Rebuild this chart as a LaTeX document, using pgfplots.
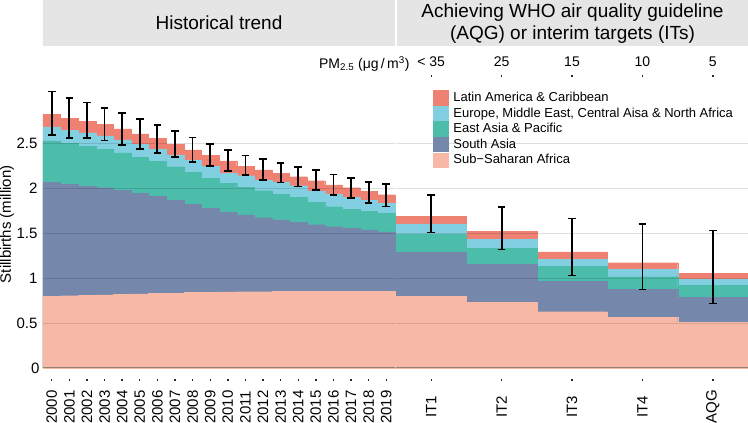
\documentclass[border=0pt]{standalone}
\usepackage{fontspec}
\setmainfont{Liberation Sans}
\usepackage{pgfplots}
\pgfplotsset{compat=1.18}
\usepackage{pgfplotstable}

\definecolor{latam}{RGB}{238,129,114}
\definecolor{eur}{RGB}{130,207,226}
\definecolor{eap}{RGB}{76,188,171}
\definecolor{sa}{RGB}{118,135,172}
\definecolor{ssa}{RGB}{247,185,165}
\definecolor{strip}{RGB}{229,229,229}
\definecolor{zeroline}{RGB}{150,128,120}

% cumulative tops of each stacked layer (million), error bar low/high
\pgfplotstableread{
x lat eur eap sa ssa lo hi
0 2.823 2.685 2.530 2.070 0.800 2.596 3.079
1 2.782 2.648 2.504 2.045 0.805 2.563 3.008
2 2.749 2.619 2.470 2.026 0.810 2.559 2.956
3 2.712 2.585 2.433 2.007 0.815 2.533 2.893
4 2.663 2.541 2.396 1.981 0.820 2.485 2.841
5 2.608 2.489 2.344 1.948 0.825 2.441 2.774
6 2.559 2.437 2.300 1.915 0.830 2.393 2.707
7 2.493 2.374 2.241 1.870 0.835 2.352 2.641
8 2.430 2.315 2.178 1.826 0.840 2.296 2.567
9 2.370 2.244 2.115 1.781 0.845 2.252 2.493
10 2.307 2.170 2.056 1.733 0.847 2.196 2.430
11 2.248 2.141 2.011 1.704 0.849 2.148 2.367
12 2.207 2.093 1.974 1.674 0.850 2.096 2.326
13 2.170 2.067 1.937 1.648 0.851 2.067 2.285
14 2.130 2.030 1.900 1.622 0.852 2.022 2.235
15 2.085 1.967 1.844 1.596 0.852 1.981 2.204
16 2.038 1.940 1.796 1.574 0.853 1.929 2.154
17 2.008 1.898 1.770 1.556 0.854 1.891 2.113
18 1.965 1.865 1.745 1.537 0.855 1.835 2.068
19 1.930 1.835 1.720 1.515 0.856 1.797 2.049
}\hist

\pgfplotstableread{
x lat eur eap sa ssa lo hi
0 1.688 1.606 1.487 1.291 0.801 1.510 1.925
1 1.521 1.435 1.332 1.154 0.734 1.320 1.795
2 1.294 1.213 1.131 0.968 0.627 1.031 1.665
3 1.172 1.098 1.016 0.875 0.567 0.875 1.602
4 1.057 0.987 0.920 0.790 0.512 0.716 1.532
}\scen

\pgfplotsset{
  panel/.style={
    scale only axis, width=352pt, height=287.4pt,
    ymin=0, ymax=3.2,
    axis line style={draw=none},
    axis on top,
    ytick={0.5,1,1.5,2,2.5},
    extra y ticks={0},
    extra y tick style={major tick length=0pt, grid style={draw=zeroline, opacity=1, line width=1pt}},
    ymajorgrids,
    grid style={draw=black, opacity=0.13, line width=0.9pt},
    ytick style={draw=none},
    xtick pos=left,
    tick align=outside,
    major tick length=2pt,
    xtick style={draw=black!85, line width=1.4pt, yshift=-11pt},
    /pgf/number format/assume math mode=true,
    tick label style={font=\fontsize{15}{17}\selectfont},
    xticklabel style={rotate=90, anchor=center},
    xticklabel shift=37pt,
    clip=false,
  },
  bar/.style={ybar, bar width=1, bar shift=0pt, fill=#1, draw=#1, line width=0.2pt,
    legend image code/.code={\fill[#1] (0pt,-7.2pt) rectangle (15pt,7.2pt);}},
  errs/.style={draw=none, no markers, forget plot,
    error bars/.cd, y dir=both, y explicit,
    error bar style={draw=black, line width=1.8pt},
    error mark options={rotate=90, draw=black, line width=1.6pt, mark size=3.8pt}},
}

\begin{document}
\begin{tikzpicture}
\path[use as bounding box] (0pt,0pt) rectangle (748pt,423pt);

% facet strips
\fill[strip] (43pt,377pt) rectangle (395pt,423pt);
\fill[strip] (397pt,377pt) rectangle (748pt,423pt);
\node[font=\fontsize{19}{22}\selectfont] at (219pt,400pt) {Historical trend};
\node[font=\fontsize{19}{22}\selectfont, align=center] at (572.5pt,399pt) {Achieving WHO air quality guideline\\(AQG) or interim targets (ITs)};

% left panel: historical trend
\begin{axis}[panel, at={(43pt,55pt)}, anchor=south west,
  xmin=-0.5, xmax=19.5,
  xtick={0,...,19},
  xticklabels={2000,2001,2002,2003,2004,2005,2006,2007,2008,2009,2010,2011,2012,2013,2014,2015,2016,2017,2018,2019},
  ylabel={Stillbirths (million)},
  every axis y label/.style={at={(axis description cs:-0.1023,0.5)}, rotate=90, anchor=center, font=\fontsize{15}{17}\selectfont},
]
\addplot[bar=latam] table[x=x, y=lat] {\hist};
\addplot[bar=eur] table[x=x, y=eur] {\hist};
\addplot[bar=eap] table[x=x, y=eap] {\hist};
\addplot[bar=sa] table[x=x, y=sa] {\hist};
\addplot[bar=ssa] table[x=x, y=ssa] {\hist};
\addplot[errs] table[x=x, y expr={(\thisrow{lo}+\thisrow{hi})/2}, y error expr={(\thisrow{hi}-\thisrow{lo})/2}] {\hist};
\end{axis}

% right panel: scenarios
\begin{axis}[panel, at={(396pt,55pt)}, anchor=south west,
  xmin=-0.5, xmax=4.5,
  xtick={0,...,4},
  xticklabels={IT1,IT2,IT3,IT4,AQG},
  yticklabels={}, extra y tick labels={},
  legend style={at={(axis description cs:0.105,0.967)}, anchor=north west,
    draw=none, fill=none, inner sep=0pt, row sep=1pt, column sep=5pt,
    nodes={inner sep=0pt}, cells={anchor=west},
    font=\fontsize{13}{15}\selectfont},
  legend entries={Latin America \& Caribbean, {Europe, Middle East, Central Aisa \& North Africa}, East Asia \& Pacific, South Asia, Sub−Saharan Africa},
]
\addplot[bar=latam] table[x=x, y=lat] {\scen};
\addplot[bar=eur] table[x=x, y=eur] {\scen};
\addplot[bar=eap] table[x=x, y=eap] {\scen};
\addplot[bar=sa] table[x=x, y=sa] {\scen};
\addplot[bar=ssa] table[x=x, y=ssa] {\scen};
\addplot[errs] table[x=x, y expr={(\thisrow{lo}+\thisrow{hi})/2}, y error expr={(\thisrow{hi}-\thisrow{lo})/2}] {\scen};
\end{axis}

% top PM2.5 axis for the scenario panel
\begin{axis}[at={(396pt,55pt)}, anchor=south west, scale only axis, width=352pt, height=287.4pt,
  xmin=-0.5, xmax=4.5, ymin=0, ymax=1,
  axis x line*=top, axis y line=none,
  x axis line style={draw=none},
  xtick={0,...,4},
  xticklabels={{< 35},25,15,10,5},
  tick align=outside, major tick length=2pt,
  xtick style={draw=black!85, line width=1.4pt, yshift=4pt},
  xticklabel style={anchor=center, font=\fontsize{14}{16}\selectfont},
  xticklabel shift=17pt,
  /pgf/number format/assume math mode=true,
]
\end{axis}
\node[anchor=east, font=\fontsize{14}{16}\selectfont] at (413pt,359pt) {PM\textsubscript{2.5} (μg\,/\,m\textsuperscript{3})};
\end{tikzpicture}
\end{document}
